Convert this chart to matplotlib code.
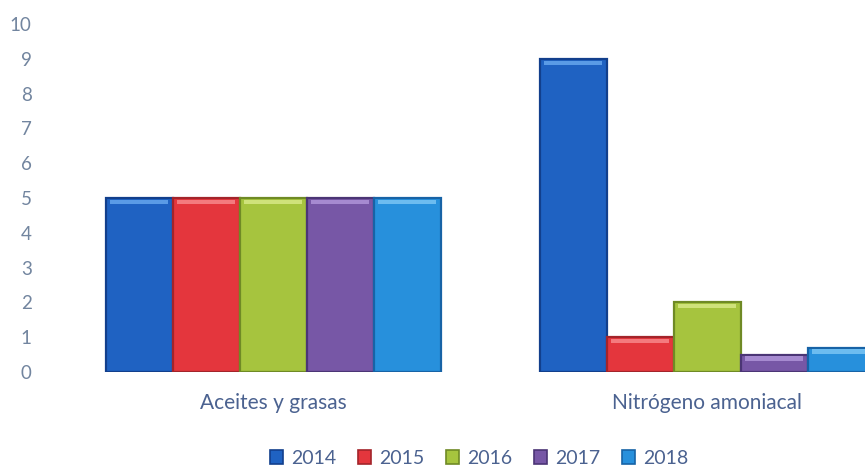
import matplotlib
matplotlib.use("Agg")
import matplotlib.pyplot as plt
from matplotlib.patches import Patch
import numpy as np

categories = ["Aceites y grasas", "Nitrógeno amoniacal"]
years = ["2014", "2015", "2016", "2017", "2018"]
values = {
    "2014": [5, 9],
    "2015": [5, 1],
    "2016": [5, 2],
    "2017": [5, 0.5],
    "2018": [5, 0.7],
}
yticks = list(range(0, 11))

face = ["#1f62c2", "#e4363d", "#a6c43e", "#7757a6", "#2790dc"]
edge = ["#123f8c", "#a3242a", "#6f8a25", "#4b3575", "#1763a6"]
light = ["#5a9be6", "#f47a7e", "#cfe27a", "#a68ad0", "#6cbcf0"]

plt.rcParams["font.family"] = ["Lato", "DejaVu Sans"]

fig = plt.figure(figsize=(8.65, 4.66), dpi=100)
ax = fig.add_axes([40 / 865, 94 / 466, 825 / 865, 348 / 466])

x = np.arange(len(categories))
w = 0.1544
offsets = (np.arange(len(years)) - 2) * w

for i, yr in enumerate(years):
    vals = np.array(values[yr], dtype=float)
    ax.bar(x + offsets[i], vals, width=w, color=face[i], edgecolor=edge[i],
           linewidth=1.6, zorder=2)
    # bevel highlight along the top of each bar
    hl = np.minimum(vals * 0.25, 0.12)
    ax.bar(x + offsets[i], hl, bottom=vals - hl - 0.05, width=w * 0.86,
           color=light[i], linewidth=0, zorder=3)

ax.set_xlim(-0.537, 1.364)
ax.set_ylim(0, 10)
ax.set_yticks(yticks)
ax.set_yticklabels([str(t) for t in yticks])
ax.set_xticks(x)
ax.set_xticklabels(categories)

for s in ax.spines.values():
    s.set_visible(False)
ax.tick_params(axis="both", length=0)
ax.tick_params(axis="y", labelsize=13.5, labelcolor="#72859f", pad=6)
ax.tick_params(axis="x", labelsize=15, labelcolor="#4b6290", pad=15)

handles = [Patch(facecolor=face[i], edgecolor=edge[i], linewidth=1.2) for i in range(len(years))]
fig.legend(handles, years, loc="center", bbox_to_anchor=(479 / 865, 1 - 458 / 466),
           ncol=5, frameon=False, fontsize=14, labelcolor="#4b6290",
           handlelength=0.7, handleheight=0.7, handletextpad=0.4, columnspacing=1.1)

fig.savefig("out.png", dpi=100)
